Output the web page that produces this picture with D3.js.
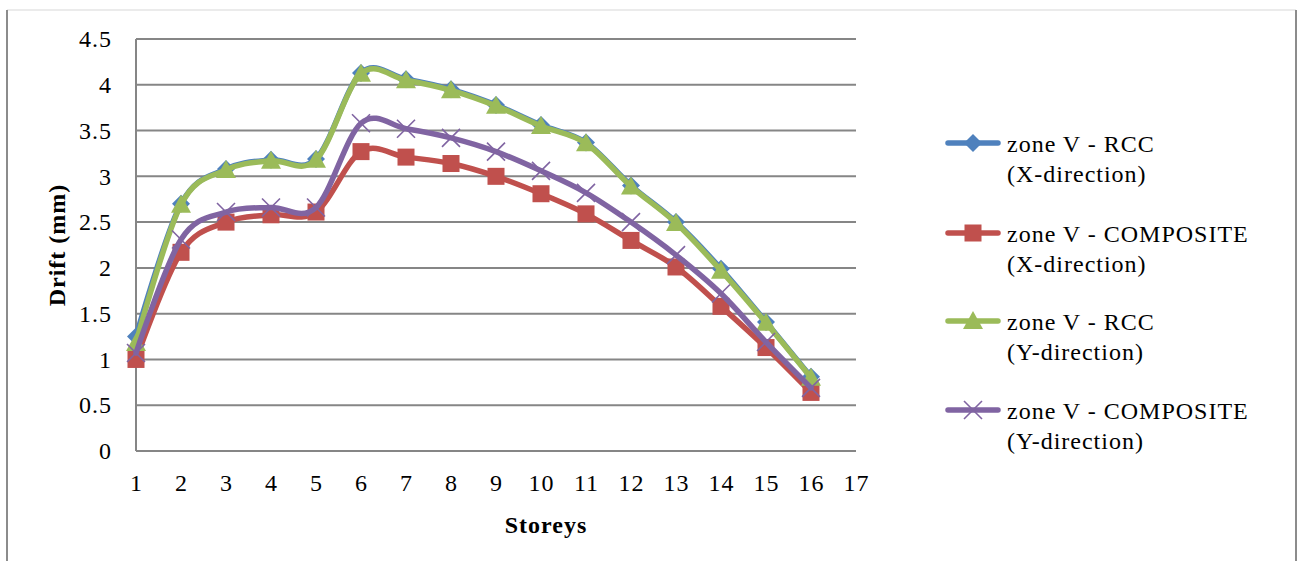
<!DOCTYPE html>
<html>
<head>
<meta charset="utf-8">
<script src="https://cdn.jsdelivr.net/npm/d3@7"></script>
<style>
  body { margin: 0; background: #fff; }
  svg text { font-family: "Liberation Serif", "Times New Roman", serif; fill: #000; }
</style>
</head>
<body>
<div id="chart"></div>
<script>
// data
var storeys = d3.range(1, 17);
var xTicks = d3.range(1, 18);
var yTicks = [0, 0.5, 1, 1.5, 2, 2.5, 3, 3.5, 4, 4.5];

var rccX = [1.25, 2.70, 3.08, 3.18, 3.19, 4.13, 4.06, 3.95, 3.78, 3.56, 3.37, 2.90, 2.50, 1.99, 1.41, 0.81];
var compX = [1.00, 2.17, 2.50, 2.58, 2.61, 3.27, 3.21, 3.14, 3.00, 2.81, 2.59, 2.30, 2.01, 1.58, 1.13, 0.64];
var rccY = [1.18, 2.69, 3.07, 3.17, 3.18, 4.12, 4.05, 3.94, 3.77, 3.55, 3.36, 2.89, 2.49, 1.97, 1.40, 0.80];
var compY = [1.07, 2.31, 2.61, 2.66, 2.66, 3.58, 3.52, 3.42, 3.27, 3.06, 2.82, 2.50, 2.14, 1.72, 1.19, 0.69];

var seriesNames = [
    ["zone V - RCC", "(X-direction)"],
    ["zone V - COMPOSITE", "(X-direction)"],
    ["zone V - RCC", "(Y-direction)"],
    ["zone V - COMPOSITE", "(Y-direction)"]
];
var seriesValues = [rccX, compX, rccY, compY];
var seriesColors = ["#4f81bd", "#c0504d", "#9bbb59", "#8064a2"];
var seriesMarkers = ["diamond", "square", "triangle", "cross"];

var w = 1301, h = 561;
var svg = d3.select("#chart").append("svg")
    .attr("width", w)
    .attr("height", h);

//outer chart frame
svg.append("line").attr("x1", 7).attr("x2", 1296).attr("y1", 10).attr("y2", 10)
    .attr("stroke", "#e4e4e4").attr("stroke-width", 1.5);
svg.append("line").attr("x1", 7).attr("x2", 7).attr("y1", 10).attr("y2", h)
    .attr("stroke", "#8c8c8c").attr("stroke-width", 2);
svg.append("line").attr("x1", 1296).attr("x2", 1296).attr("y1", 10).attr("y2", h)
    .attr("stroke", "#8c8c8c").attr("stroke-width", 2);

var xScale = d3.scaleLinear().domain([1, 17]).range([136, 856]);
var yScale = d3.scaleLinear().domain([0, 4.5]).range([451, 39]);

//gridlines
svg.append("g")
    .selectAll("line")
    .data(yTicks)
    .enter().append("line")
    .attr("x1", xScale(1))
    .attr("x2", xScale(17))
    .attr("y1", function (d) { return yScale(d); })
    .attr("y2", function (d) { return yScale(d); })
    .attr("stroke", "#868686")
    .attr("stroke-width", 2);

//left axis line
svg.append("line")
    .attr("x1", xScale(1)).attr("x2", xScale(1))
    .attr("y1", yScale(4.5)).attr("y2", yScale(0))
    .attr("stroke", "#868686")
    .attr("stroke-width", 2);

//y axis labels
var yAxis = d3.axisLeft(yScale)
    .tickValues(yTicks)
    .tickFormat(function (d) { return String(d); })
    .tickSize(0)
    .tickPadding(24);
var gY = svg.append("g")
    .attr("transform", "translate(" + xScale(1) + ",0)")
    .call(yAxis);
gY.select(".domain").remove();
gY.selectAll("text")
    .style("font-family", "Liberation Serif")
    .style("font-size", "24px")
    .style("letter-spacing", "1px")
    .attr("fill", "#000");

//x axis labels
var xAxis = d3.axisBottom(xScale)
    .tickValues(xTicks)
    .tickFormat(function (d) { return String(d); })
    .tickSize(0)
    .tickPadding(23);
var gX = svg.append("g")
    .attr("transform", "translate(0," + yScale(0) + ")")
    .call(xAxis);
gX.select(".domain").remove();
gX.selectAll("text")
    .style("font-family", "Liberation Serif")
    .style("font-size", "24px")
    .style("letter-spacing", "1px")
    .attr("fill", "#000");

//axis titles
svg.append("text")
    .attr("transform", "translate(65,245) rotate(-90)")
    .attr("text-anchor", "middle")
    .style("font-size", "24px")
    .style("font-weight", "bold")
    .style("letter-spacing", "1px")
    .text("Drift (mm)");

svg.append("text")
    .attr("x", 546)
    .attr("y", 533)
    .attr("text-anchor", "middle")
    .style("font-size", "24px")
    .style("font-weight", "bold")
    .style("letter-spacing", "1px")
    .text("Storeys");

//marker drawing
function drawMarker(g, type, color, x, y) {
    if (type == "diamond") {
        g.append("path")
            .attr("d", "M" + x + "," + (y - 9) + "L" + (x + 9) + "," + y + "L" + x + "," + (y + 9) + "L" + (x - 9) + "," + y + "Z")
            .attr("fill", color);
    } else if (type == "square") {
        g.append("rect")
            .attr("x", x - 8.5).attr("y", y - 8.5)
            .attr("width", 17).attr("height", 17)
            .attr("fill", color);
    } else if (type == "triangle") {
        g.append("path")
            .attr("d", "M" + x + "," + (y - 10) + "L" + (x + 10) + "," + (y + 8) + "L" + (x - 10) + "," + (y + 8) + "Z")
            .attr("fill", color);
    } else if (type == "cross") {
        g.append("path")
            .attr("d", "M" + (x - 9) + "," + (y - 9) + "L" + (x + 9) + "," + (y + 9) + "M" + (x + 9) + "," + (y - 9) + "L" + (x - 9) + "," + (y + 9))
            .attr("stroke", color)
            .attr("stroke-width", 1.6)
            .attr("fill", "none");
    }
}

//smoothed lines, like Excel
var line = d3.line()
    .x(function (d, i) { return xScale(storeys[i]); })
    .y(function (d) { return yScale(d); })
    .curve(d3.curveCatmullRom.alpha(0));

seriesValues.forEach(function (vals, s) {
    var g = svg.append("g").attr("class", "series");
    g.append("path")
        .attr("d", line(vals))
        .attr("fill", "none")
        .attr("stroke", seriesColors[s])
        .attr("stroke-width", 5.5)
        .attr("stroke-linejoin", "round")
        .attr("stroke-linecap", "round");
    vals.forEach(function (v, i) {
        drawMarker(g, seriesMarkers[s], seriesColors[s], xScale(storeys[i]), yScale(v));
    });
});

//legend
var legendY = [143, 233, 321, 410];
var legend = svg.append("g").attr("class", "legend");
seriesNames.forEach(function (name, s) {
    var g = legend.append("g");
    var ly = legendY[s];
    g.append("line")
        .attr("x1", 948).attr("x2", 998)
        .attr("y1", ly).attr("y2", ly)
        .attr("stroke", seriesColors[s])
        .attr("stroke-width", 5.5)
        .attr("stroke-linecap", "round");
    drawMarker(g, seriesMarkers[s], seriesColors[s], 973, ly);
    g.append("text")
        .attr("x", 1007)
        .attr("y", ly + 9)
        .style("font-size", "24px")
        .style("letter-spacing", "1px")
        .text(name[0]);
    g.append("text")
        .attr("x", 1007)
        .attr("y", ly + 39)
        .style("font-size", "24px")
        .style("letter-spacing", "1px")
        .text(name[1]);
});
</script>
</body>
</html>
